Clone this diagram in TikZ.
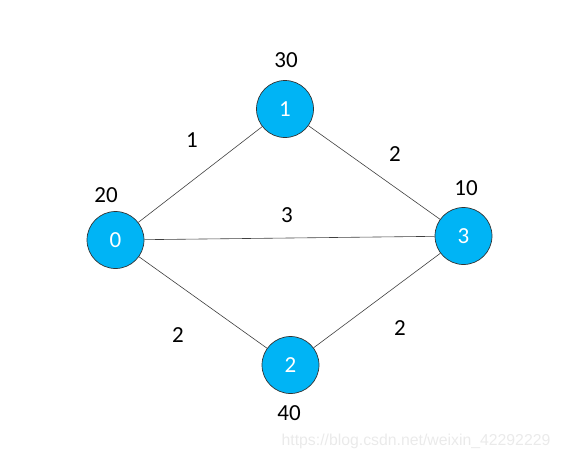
\documentclass[tikz,border=0pt]{standalone}
\usepackage{fontspec}
\setmainfont{Carlito}
\newfontfamily\wmfont{Liberation Sans}
\definecolor{nodeblue}{RGB}{0,180,245}
\definecolor{wmgray}{RGB}{234,234,234}
\begin{document}
\begin{tikzpicture}[x=1pt,y=-1pt,
  vert/.style={circle,draw=black!80,line width=0.7pt,fill=nodeblue,minimum size=57pt,inner sep=0pt,text=white,font=\fontsize{23}{23}\selectfont},
  lbl/.style={font=\fontsize{23}{23}\selectfont,text=black,inner sep=0pt},
  edge/.style={draw=black!75,line width=0.6pt}]
\useasboundingbox (0,0) rectangle (562,461);
\node[vert] (n0) at (115.5,240) {0};
\node[vert] (n1) at (285,109) {1};
\node[vert] (n3) at (463.5,236) {3};
\node[vert] (n2) at (290.5,365) {2};
\draw[edge] (n0) -- (n1);
\draw[edge] (n1) -- (n3);
\draw[edge] (n0) -- (n3);
\draw[edge] (n0) -- (n2);
\draw[edge] (n2) -- (n3);
\node[lbl] (w0) at (106,195) {20};
\node[lbl] (w1) at (286,60) {30};
\node[lbl] (w3) at (466,188) {10};
\node[lbl] (w2) at (289,413) {40};
\node[lbl] (e01) at (192,140) {1};
\node[lbl] (e13) at (395,154) {2};
\node[lbl] (e03) at (287,215) {3};
\node[lbl] (e02) at (178,335) {2};
\node[lbl] (e23) at (400,328) {2};
\node[inner sep=0pt,text=wmgray,font=\wmfont\fontsize{15.8}{15.8}\selectfont] (wm) at (416,441) {https://blog.csdn.net/weixin\_42292229};
\end{tikzpicture}
\end{document}
